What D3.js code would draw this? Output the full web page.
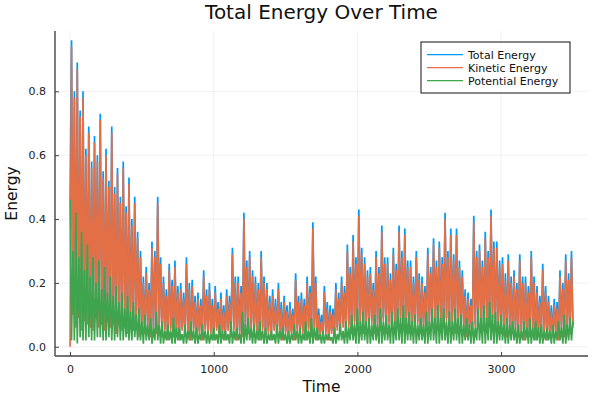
<!DOCTYPE html>
<html>
<head>
<meta charset="utf-8">
<script src="https://cdn.jsdelivr.net/npm/d3@7"></script>
<style>
  html, body { margin: 0; padding: 0; background: #fff; }
  svg { display: block; }
  text { font-family: "DejaVu Sans", sans-serif; }
</style>
</head>
<body>
<svg id="chart" width="600" height="400"></svg>
<script>
// ---- data (one sample every 10 time units) ----
const timeStep = 10;
const totalEnergy = [
  0.46,0.96,0.11,0.80, 0.07,0.89,0.10,0.74, 0.06,0.80,0.09,0.62, 0.08,0.69,0.07,0.58, 0.06,0.66,0.10,0.60,
  0.07,0.73,0.08,0.55, 0.06,0.62,0.09,0.52, 0.07,0.69,0.08,0.50, 0.05,0.56,0.09,0.47, 0.06,0.58,0.08,0.44,
  0.05,0.53,0.07,0.40, 0.06,0.47,0.08,0.36, 0.04,0.30,0.06,0.22, 0.05,0.25,0.07,0.20, 0.04,0.33,0.06,0.30,
  0.05,0.47,0.07,0.28, 0.04,0.22,0.06,0.18, 0.03,0.26,0.06,0.21, 0.04,0.27,0.05,0.19, 0.03,0.20,0.06,0.17,
  0.04,0.28,0.05,0.20, 0.03,0.21,0.06,0.16, 0.04,0.17,0.05,0.15, 0.03,0.24,0.06,0.18, 0.04,0.20,0.05,0.15,
  0.03,0.19,0.06,0.14, 0.04,0.17,0.05,0.13, 0.03,0.18,0.06,0.16, 0.04,0.31,0.06,0.22, 0.03,0.22,0.05,0.19,
  0.04,0.42,0.06,0.27, 0.05,0.30,0.06,0.24, 0.04,0.22,0.05,0.20, 0.03,0.30,0.06,0.22, 0.04,0.20,0.05,0.16,
  0.03,0.18,0.06,0.15, 0.04,0.20,0.05,0.14, 0.03,0.16,0.05,0.13, 0.04,0.14,0.05,0.12, 0.03,0.23,0.06,0.16,
  0.04,0.17,0.05,0.15, 0.03,0.22,0.06,0.19, 0.04,0.39,0.06,0.22, 0.03,0.12,0.05,0.10, 0.04,0.19,0.05,0.14,
  0.03,0.13,0.05,0.12, 0.04,0.20,0.06,0.17, 0.05,0.22,0.07,0.19, 0.04,0.32,0.07,0.25, 0.05,0.35,0.08,0.28,
  0.06,0.43,0.08,0.31, 0.05,0.28,0.07,0.24, 0.06,0.25,0.08,0.20, 0.05,0.30,0.07,0.25, 0.06,0.38,0.09,0.28,
  0.05,0.28,0.08,0.23, 0.06,0.31,0.07,0.26, 0.07,0.38,0.09,0.30, 0.06,0.37,0.08,0.27, 0.05,0.27,0.07,0.22,
  0.06,0.30,0.08,0.23, 0.05,0.22,0.07,0.19, 0.06,0.31,0.08,0.25, 0.07,0.34,0.09,0.27, 0.06,0.33,0.08,0.28,
  0.07,0.42,0.09,0.30, 0.06,0.37,0.08,0.29, 0.05,0.37,0.07,0.27, 0.06,0.24,0.07,0.18, 0.04,0.17,0.06,0.15,
  0.05,0.41,0.07,0.30, 0.07,0.32,0.09,0.27, 0.06,0.36,0.08,0.30, 0.07,0.43,0.09,0.33, 0.06,0.33,0.07,0.27,
  0.05,0.28,0.06,0.23, 0.04,0.29,0.06,0.22, 0.05,0.24,0.06,0.20, 0.04,0.29,0.05,0.22, 0.03,0.22,0.05,0.19,
  0.04,0.30,0.06,0.22, 0.03,0.19,0.05,0.16, 0.04,0.26,0.05,0.19, 0.03,0.16,0.05,0.13, 0.04,0.15,0.05,0.14,
  0.03,0.24,0.06,0.20, 0.04,0.29,0.06,0.23, 0.05,0.30,0.07];
const kineticEnergy = [
  0.00,0.94,0.10,0.78, 0.06,0.87,0.09,0.72, 0.05,0.78,0.08,0.60, 0.07,0.67,0.06,0.56, 0.05,0.64,0.09,0.58,
  0.06,0.71,0.07,0.53, 0.05,0.60,0.08,0.50, 0.06,0.67,0.07,0.48, 0.04,0.54,0.08,0.45, 0.05,0.56,0.07,0.42,
  0.04,0.51,0.06,0.38, 0.05,0.45,0.07,0.34, 0.03,0.28,0.05,0.20, 0.04,0.23,0.06,0.18, 0.03,0.31,0.05,0.28,
  0.04,0.45,0.06,0.26, 0.03,0.20,0.05,0.16, 0.02,0.24,0.05,0.19, 0.03,0.25,0.04,0.17, 0.02,0.18,0.05,0.15,
  0.03,0.26,0.04,0.18, 0.02,0.19,0.05,0.14, 0.03,0.15,0.04,0.13, 0.02,0.22,0.05,0.16, 0.03,0.18,0.04,0.13,
  0.02,0.17,0.05,0.12, 0.03,0.15,0.04,0.11, 0.02,0.16,0.05,0.14, 0.03,0.29,0.05,0.20, 0.02,0.20,0.04,0.17,
  0.03,0.40,0.05,0.25, 0.04,0.28,0.05,0.22, 0.03,0.20,0.04,0.18, 0.02,0.28,0.05,0.20, 0.03,0.18,0.04,0.14,
  0.02,0.16,0.05,0.13, 0.03,0.18,0.04,0.12, 0.02,0.14,0.04,0.11, 0.03,0.12,0.04,0.10, 0.02,0.21,0.05,0.14,
  0.03,0.15,0.04,0.13, 0.02,0.20,0.05,0.17, 0.03,0.37,0.05,0.20, 0.02,0.10,0.04,0.08, 0.03,0.17,0.04,0.12,
  0.02,0.11,0.04,0.10, 0.03,0.18,0.05,0.15, 0.04,0.20,0.06,0.17, 0.03,0.30,0.06,0.23, 0.04,0.33,0.07,0.26,
  0.05,0.41,0.07,0.29, 0.04,0.26,0.06,0.22, 0.05,0.23,0.07,0.18, 0.04,0.28,0.06,0.23, 0.05,0.36,0.08,0.26,
  0.04,0.26,0.07,0.21, 0.05,0.29,0.06,0.24, 0.06,0.36,0.08,0.28, 0.05,0.35,0.07,0.25, 0.04,0.25,0.06,0.20,
  0.05,0.28,0.07,0.21, 0.04,0.20,0.06,0.17, 0.05,0.29,0.07,0.23, 0.06,0.32,0.08,0.25, 0.05,0.31,0.07,0.26,
  0.06,0.40,0.08,0.28, 0.05,0.35,0.07,0.27, 0.04,0.35,0.06,0.25, 0.05,0.22,0.06,0.16, 0.03,0.15,0.05,0.13,
  0.04,0.39,0.06,0.28, 0.06,0.30,0.08,0.25, 0.05,0.34,0.07,0.28, 0.06,0.41,0.08,0.31, 0.05,0.31,0.06,0.25,
  0.04,0.26,0.05,0.21, 0.03,0.27,0.05,0.20, 0.04,0.22,0.05,0.18, 0.03,0.27,0.04,0.20, 0.02,0.20,0.04,0.17,
  0.03,0.28,0.05,0.20, 0.02,0.17,0.04,0.14, 0.03,0.24,0.04,0.17, 0.02,0.14,0.04,0.11, 0.03,0.13,0.04,0.12,
  0.02,0.22,0.05,0.18, 0.03,0.27,0.05,0.21, 0.04,0.28,0.06];
const potentialEnergy = [
  0.46,0.02,0.30,0.02, 0.42,0.01,0.28,0.03, 0.36,0.02,0.24,0.02, 0.32,0.03,0.22,0.02, 0.28,0.02,0.20,0.03,
  0.27,0.03,0.18,0.02, 0.25,0.02,0.17,0.03, 0.22,0.02,0.16,0.02, 0.19,0.03,0.14,0.02, 0.17,0.02,0.12,0.03,
  0.16,0.02,0.11,0.02, 0.14,0.03,0.10,0.02, 0.12,0.02,0.08,0.01, 0.10,0.02,0.07,0.02, 0.09,0.01,0.06,0.02,
  0.11,0.02,0.07,0.01, 0.08,0.01,0.05,0.02, 0.07,0.02,0.05,0.01, 0.09,0.01,0.06,0.02, 0.06,0.02,0.04,0.01,
  0.07,0.01,0.05,0.02, 0.08,0.02,0.05,0.01, 0.06,0.01,0.04,0.02, 0.07,0.02,0.05,0.01, 0.05,0.01,0.04,0.02,
  0.06,0.02,0.04,0.01, 0.07,0.01,0.05,0.02, 0.05,0.02,0.04,0.01, 0.08,0.01,0.05,0.02, 0.06,0.02,0.04,0.01,
  0.11,0.01,0.07,0.02, 0.09,0.02,0.06,0.01, 0.07,0.01,0.05,0.02, 0.08,0.02,0.05,0.01, 0.06,0.01,0.04,0.02,
  0.05,0.02,0.04,0.01, 0.07,0.01,0.05,0.02, 0.06,0.02,0.04,0.01, 0.05,0.01,0.04,0.02, 0.07,0.02,0.05,0.01,
  0.06,0.01,0.04,0.02, 0.08,0.02,0.05,0.01, 0.09,0.01,0.06,0.02, 0.06,0.02,0.04,0.01, 0.05,0.01,0.04,0.02,
  0.04,0.02,0.03,0.01, 0.06,0.01,0.04,0.02, 0.07,0.02,0.05,0.01, 0.08,0.01,0.06,0.02, 0.10,0.02,0.07,0.01,
  0.12,0.01,0.08,0.02, 0.11,0.02,0.08,0.01, 0.09,0.01,0.07,0.02, 0.10,0.02,0.07,0.01, 0.12,0.01,0.08,0.02,
  0.10,0.02,0.07,0.01, 0.11,0.01,0.08,0.02, 0.12,0.02,0.09,0.01, 0.13,0.01,0.09,0.02, 0.11,0.02,0.08,0.01,
  0.10,0.01,0.07,0.02, 0.09,0.02,0.07,0.01, 0.11,0.01,0.08,0.02, 0.12,0.02,0.09,0.01, 0.13,0.01,0.09,0.02,
  0.12,0.02,0.08,0.01, 0.11,0.01,0.08,0.02, 0.12,0.02,0.09,0.01, 0.10,0.01,0.07,0.02, 0.09,0.02,0.07,0.01,
  0.08,0.01,0.06,0.02, 0.12,0.02,0.09,0.01, 0.13,0.01,0.09,0.02, 0.14,0.02,0.10,0.01, 0.11,0.01,0.08,0.02,
  0.10,0.02,0.07,0.01, 0.09,0.01,0.07,0.02, 0.08,0.02,0.06,0.01, 0.07,0.01,0.05,0.02, 0.08,0.02,0.06,0.01,
  0.09,0.01,0.06,0.02, 0.08,0.02,0.06,0.01, 0.07,0.01,0.05,0.02, 0.06,0.02,0.05,0.01, 0.07,0.01,0.05,0.02,
  0.08,0.02,0.06,0.01, 0.10,0.01,0.07,0.02, 0.09,0.02,0.08];

const seriesNames = ["Total Energy", "Kinetic Energy", "Potential Energy"];
const seriesColors = ["#009AFA", "#E36F47", "#3EA44E"];
const xTicks = [0, 1000, 2000, 3000];
const yTicks = [0.0, 0.2, 0.4, 0.6, 0.8];
const titleText = "Total Energy Over Time";
const xLabel = "Time";
const yLabel = "Energy";

// ---- layout ----
const svg = d3.select("#chart");
const plot = { left: 55, right: 588, top: 31, bottom: 356 };

const series = [totalEnergy, kineticEnergy, potentialEnergy].map((vals, si) => ({
  name: seriesNames[si],
  color: seriesColors[si],
  points: vals.map((v, i) => ({ t: i * timeStep, v }))
}));

const tMax = d3.max(series, s => d3.max(s.points, p => p.t));
const vMax = d3.max(series, s => d3.max(s.points, p => p.v));
const vMin = d3.min(series, s => d3.min(s.points, p => p.v));
const xPad = 0.03 * tMax, yPad = 0.03 * (vMax - vMin);

const x = d3.scaleLinear().domain([0 - xPad, tMax + xPad]).range([plot.left, plot.right]);
const y = d3.scaleLinear().domain([vMin - yPad, vMax + yPad]).range([plot.bottom, plot.top]);

// grid
const grid = svg.append("g").attr("stroke", "#000").attr("stroke-opacity", 0.1).attr("stroke-width", 0.6);
grid.selectAll(".gx").data(xTicks).join("line")
  .attr("x1", d => x(d)).attr("x2", d => x(d)).attr("y1", plot.top).attr("y2", plot.bottom);
grid.selectAll(".gy").data(yTicks).join("line")
  .attr("y1", d => y(d)).attr("y2", d => y(d)).attr("x1", plot.left).attr("x2", plot.right);

// lines
const line = d3.line().x(d => x(d.t)).y(d => y(d.v));
svg.append("g").selectAll("path").data(series).join("path")
  .attr("d", d => line(d.points))
  .attr("fill", "none")
  .attr("stroke", d => d.color)
  .attr("stroke-width", 1.7)
  .attr("stroke-linejoin", "miter")
  .attr("stroke-miterlimit", 2);

// axes
const xAxis = d3.axisBottom(x).tickValues(xTicks).tickFormat(d3.format("d")).tickSizeInner(-4).tickSizeOuter(0).tickPadding(9);
const yAxis = d3.axisLeft(y).tickValues(yTicks).tickFormat(d3.format(".1f")).tickSizeInner(-4).tickSizeOuter(0).tickPadding(9);

const gx = svg.append("g").attr("transform", `translate(0,${plot.bottom})`).call(xAxis);
const gy = svg.append("g").attr("transform", `translate(${plot.left},0)`).call(yAxis);
[gx, gy].forEach(g => {
  g.select(".domain").attr("stroke", "#444").attr("stroke-width", 1.4);
  g.selectAll(".tick line").attr("stroke", "#444").attr("stroke-width", 1);
  g.selectAll(".tick text").attr("fill", "#222").style("font-size", "11px").style("font-family", "DejaVu Sans, sans-serif");
});
gx.select(".domain").attr("d", `M${plot.left},0H${plot.right}`);
gy.select(".domain").attr("d", `M0,${plot.bottom}V${plot.top}`);

// title and labels
svg.append("text").attr("x", (plot.left + plot.right) / 2).attr("y", 18.5)
  .attr("text-anchor", "middle").style("font-size", "20px").attr("fill", "#111").text(titleText);
svg.append("text").attr("x", (plot.left + plot.right) / 2).attr("y", 392)
  .attr("text-anchor", "middle").style("font-size", "15.5px").attr("fill", "#111").text(xLabel);
svg.append("text").attr("transform", `translate(17,${(plot.top + plot.bottom) / 2}) rotate(-90)`)
  .attr("text-anchor", "middle").style("font-size", "15.5px").attr("fill", "#111").text(yLabel);

// legend
const lg = svg.append("g").attr("transform", "translate(421,42)");
lg.append("rect").attr("width", 149).attr("height", 51).attr("fill", "#fff").attr("stroke", "#111").attr("stroke-width", 1);
const items = lg.selectAll(".item").data(series).join("g").attr("transform", (d, i) => `translate(0,${12.7 + i * 13})`);
items.append("line").attr("x1", 6).attr("x2", 42).attr("stroke", d => d.color).attr("stroke-width", 1.2);
items.append("text").attr("x", 47).attr("y", 4).style("font-size", "11px").attr("fill", "#111").text(d => d.name);
</script>
</body>
</html>
